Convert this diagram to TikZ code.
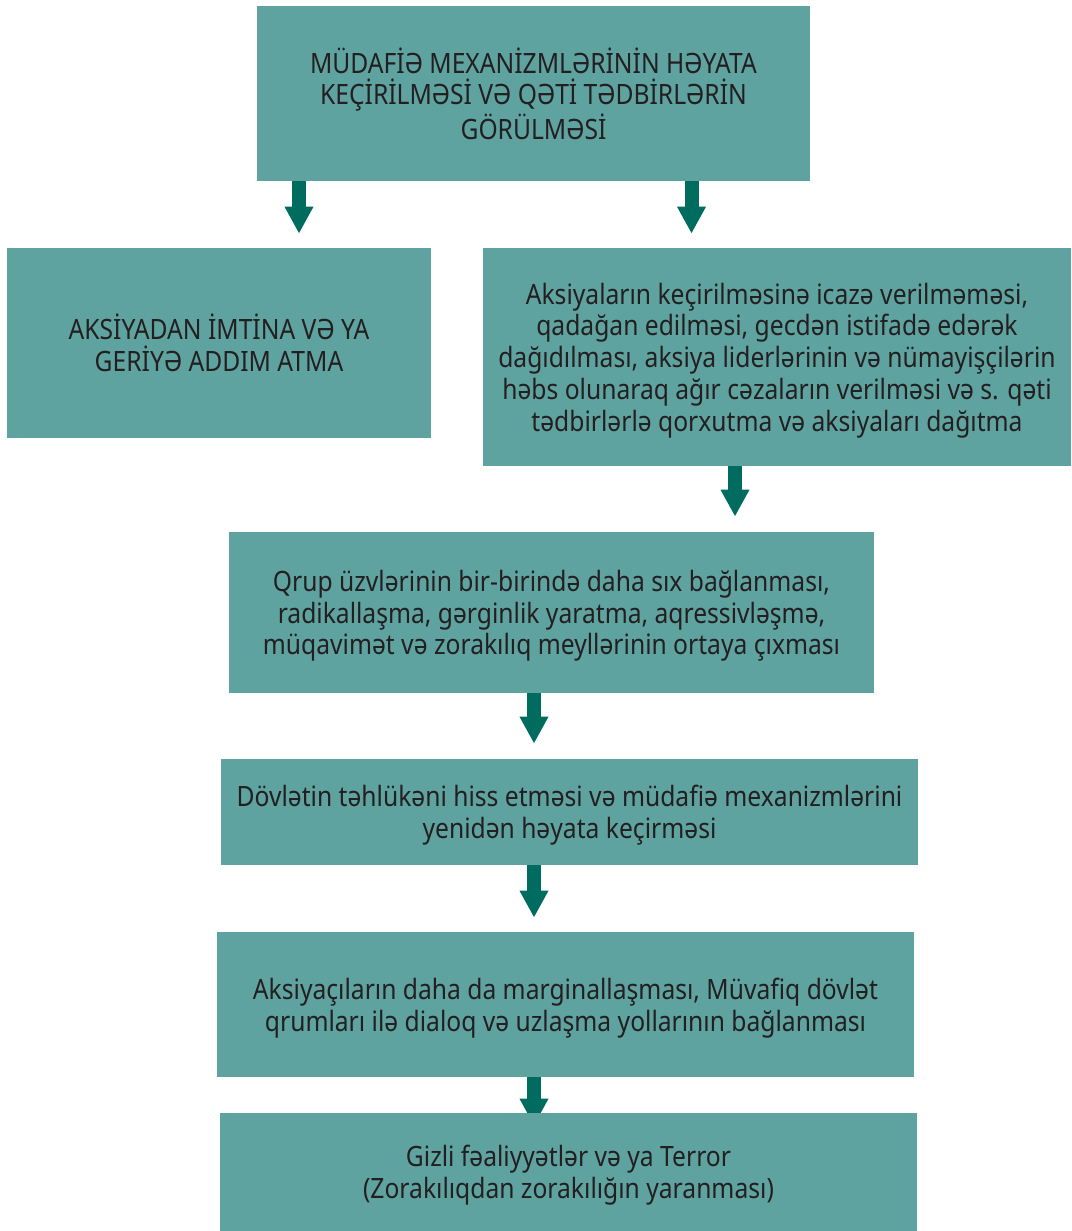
\documentclass[tikz,border=0pt]{standalone}
\usepackage{fontspec}
\setmainfont[FakeStretch=0.88]{Noto Sans}
\usetikzlibrary{arrows.meta,backgrounds}
\definecolor{boxfill}{HTML}{5FA3A0}
\definecolor{arrowcol}{HTML}{006B5F}
\definecolor{txt}{HTML}{231F20}
\begin{document}
\begin{tikzpicture}[x=0.5pt,y=-0.5pt,
  flowbox/.style={fill=boxfill,draw=none,inner sep=0pt,align=center,text=txt,
    font=\fontsize{14pt}{15.9pt}\selectfont},
  lowbox/.style={flowbox,text depth=-3pt},
  flowarr/.style={draw=arrowcol,line width=7pt,-{Triangle[width=13.5pt,length=13.5pt]}}]
\useasboundingbox (0,0) rectangle (1071,1231);
\node[flowbox,minimum width=276.5pt,minimum height=87.5pt] (top) at (533.5,93.5)
  {MÜDAFİƏ MEXANİZMLƏRİNİN HƏYATA\\KEÇİRİLMƏSİ VƏ QƏTİ TƏDBİRLƏRİN\\GÖRÜLMƏSİ};
\node[flowbox,minimum width=212pt,minimum height=95pt] (left) at (219,343)
  {AKSİYADAN İMTİNA VƏ YA\\GERİYƏ ADDIM ATMA};
\node[lowbox,minimum width=294pt,minimum height=109pt] (right) at (777,357)
  {Aksiyaların keçirilməsinə icazə verilməməsi,\\qadağan edilməsi, gecdən istifadə edərək\\dağıdılması, aksiya liderlərinin və nümayişçilərin\\həbs olunaraq ağır cəzaların verilməsi və s. qəti\\tədbirlərlə qorxutma və aksiyaları dağıtma};
\node[lowbox,minimum width=322.5pt,minimum height=80.5pt] (grp) at (551.5,612.5)
  {Qrup üzvlərinin bir-birində daha sıx bağlanması,\\radikallaşma, gərginlik yaratma, aqressivləşmə,\\müqavimət və zorakılıq meyllərinin ortaya çıxması};
\node[lowbox,minimum width=348.5pt,minimum height=53pt] (state) at (569.5,812)
  {Dövlətin təhlükəni hiss etməsi və müdafiə mexanizmlərini\\yenidən həyata keçirməsi};
\node[lowbox,minimum width=348.5pt,minimum height=72.5pt] (marg) at (565.5,1004.5)
  {Aksiyaçıların daha da marginallaşması, Müvafiq dövlət\\qrumları ilə dialoq və uzlaşma yollarının bağlanması};
\node[lowbox,text depth=-4.5pt,minimum width=348.5pt,minimum height=59pt] (terr) at (568.5,1172)
  {Gizli fəaliyyətlər və ya Terror\\(Zorakılıqdan zorakılığın yaranması)};
\coordinate (xa) at (299,0);
\coordinate (xb) at (691.5,0);
\coordinate (xc) at (735,0);
\coordinate (xd) at (534,0);
\begin{scope}[on background layer]
\draw[flowarr,shorten >=7pt] (top.south -| xa) -- (left.north -| xa);
\draw[flowarr,shorten >=7pt] (top.south -| xb) -- (right.north -| xb);
\draw[flowarr,shorten >=7.5pt] (right.south -| xc) -- (grp.north -| xc);
\draw[flowarr,shorten >=7.5pt] (grp.south -| xd) -- (state.north -| xd);
\draw[flowarr,shorten >=7pt] (state.south -| xd) -- (marg.north -| xd);
\draw[flowarr,shorten >=-6.5pt] (marg.south -| xd) -- (terr.north -| xd);
\end{scope}
\end{tikzpicture}
\end{document}
